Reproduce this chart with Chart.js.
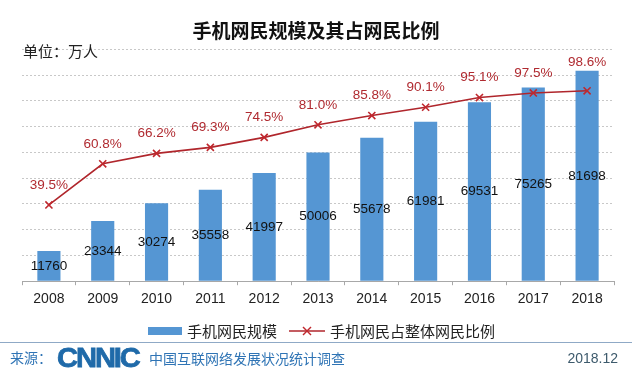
<!DOCTYPE html>
<html>
<head>
<meta charset="utf-8">
<script src="https://cdn.jsdelivr.net/npm/chart.js@4.4.1/dist/chart.umd.min.js"></script>
<style>
  html,body{margin:0;padding:0;background:#fff;}
  #wrap{position:relative;width:632px;height:376px;overflow:hidden;background:#fff;font-family:"Noto Sans CJK SC","Noto Sans",sans-serif;}
  canvas{position:absolute;left:0;top:0;}
  .abs{position:absolute;white-space:nowrap;line-height:1;}
  #title{left:0;width:632px;top:20px;text-align:center;font-size:19px;font-weight:bold;color:#111;}
  #unit{left:23px;top:43px;font-size:15px;color:#222;}
  #sep{left:0;top:342px;width:632px;height:0;border-top:1.5px solid #8fa9c6;}
  #src{left:10px;top:350px;font-size:14px;color:#2f74b5;}
  #logo{left:57px;top:344px;font-family:"Liberation Sans",Arial,sans-serif;font-weight:900;font-size:28px;color:#1f6aa9;letter-spacing:-2px;transform:scaleX(1.04);transform-origin:left top;-webkit-text-stroke:0.8px #1f6aa9;}
  #srctxt{left:149px;top:351px;font-size:14px;color:#2f74b5;}
  #date{right:14px;top:351px;font-family:"Liberation Sans",Arial,sans-serif;font-size:14px;color:#3d5a6c;}
  .lg{top:323px;font-size:15px;color:#222;}
</style>
</head>
<body>
<div id="wrap">
  <canvas id="c" width="632" height="376"></canvas>
  <div class="abs" id="title">手机网民规模及其占网民比例</div>
  <div class="abs" id="unit">单位：万人</div>
  <div class="abs" style="left:148px;top:327px;width:34px;height:8px;background:#5596d3;"></div>
  <div class="abs lg" style="left:187px;">手机网民规模</div>
  <svg class="abs" style="left:289px;top:324px;" width="36" height="14">
    <line x1="0" y1="7" x2="36" y2="7" stroke="#b0262c" stroke-width="1.5"/>
    <line x1="14" y1="3" x2="22" y2="11" stroke="#c0282e" stroke-width="1.5"/>
    <line x1="22" y1="3" x2="14" y2="11" stroke="#c0282e" stroke-width="1.5"/>
  </svg>
  <div class="abs lg" style="left:330px;">手机网民占整体网民比例</div>
  <div class="abs" id="sep"></div>
  <div class="abs" id="src">来源：</div>
  <div class="abs" id="logo">CNNIC</div>
  <div class="abs" id="srctxt">中国互联网络发展状况统计调查</div>
  <div class="abs" id="date">2018.12</div>
</div>
<script>
const years = ["2008","2009","2010","2011","2012","2013","2014","2015","2016","2017","2018"];
const mobileUsers = [11760, 23344, 30274, 35558, 41997, 50006, 55678, 61981, 69531, 75265, 81698];
const mobileShare = [39.5, 60.8, 66.2, 69.3, 74.5, 81.0, 85.8, 90.1, 95.1, 97.5, 98.6];
const seriesNames = ["手机网民规模", "手机网民占整体网民比例"];

const valueLabels = {
  id: 'valueLabels',
  afterDatasetsDraw(chart) {
    const ctx = chart.ctx;
    ctx.save();
    ctx.textAlign = 'center';
    ctx.textBaseline = 'middle';
    const barMeta = chart.getDatasetMeta(1);
    ctx.font = '13.5px "Liberation Sans", Arial, sans-serif';
    ctx.fillStyle = '#111';
    barMeta.data.forEach((el, i) => {
      const y = (el.y + el.base) / 2;
      ctx.fillText(String(mobileUsers[i]), el.x, y);
    });
    const lineMeta = chart.getDatasetMeta(0);
    ctx.font = '13.5px "Liberation Sans", Arial, sans-serif';
    ctx.fillStyle = '#b02a30';
    lineMeta.data.forEach((el, i) => {
      const barTop = barMeta.data[i].y;
      const y = Math.min(el.y - 20, barTop - 9);
      ctx.fillText(mobileShare[i].toFixed(1) + '%', el.x, y);
    });
    ctx.restore();
  }
};

new Chart(document.getElementById('c'), {
  type: 'bar',
  data: {
    labels: years,
    datasets: [
      {
        type: 'line',
        label: seriesNames[1],
        data: mobileShare,
        yAxisID: 'y1',
        borderColor: '#b0262c',
        borderWidth: 1.6,
        pointStyle: 'crossRot',
        pointRadius: 5,
        pointBorderColor: '#c0282e',
        pointBorderWidth: 1.6,
        pointBackgroundColor: '#c0282e',
        tension: 0,
        fill: false,
        order: 0
      },
      {
        type: 'bar',
        label: seriesNames[0],
        data: mobileUsers,
        yAxisID: 'y',
        backgroundColor: '#5596d3',
        barPercentage: 0.43,
        categoryPercentage: 1.0,
        order: 1
      }
    ]
  },
  options: {
    responsive: false,
    animation: false,
    devicePixelRatio: 1,
    layout: { padding: { top: 49.5, bottom: 62, left: 22, right: 18 } },
    plugins: { legend: { display: false }, title: { display: false }, tooltip: { enabled: false } },
    scales: {
      x: {
        offset: true,
        grid: { display: true, drawOnChartArea: false, drawTicks: true, tickLength: 4, color: '#a8a8a8', offset: true },
        border: { display: true, color: '#a8a8a8', width: 1 },
        ticks: { color: '#222', font: { size: 14, family: '"Liberation Sans", Arial, sans-serif' }, padding: 6, maxRotation: 0 }
      },
      y: {
        min: 0, max: 90000,
        ticks: { display: false, stepSize: 10000 },
        grid: { drawTicks: false, color: '#c8c8c8', lineWidth: 1 },
        border: { display: false, dash: [2, 2] }
      },
      y1: {
        display: false,
        position: 'right',
        min: 0, max: 120
      }
    }
  },
  plugins: [valueLabels]
});
</script>
</body>
</html>
